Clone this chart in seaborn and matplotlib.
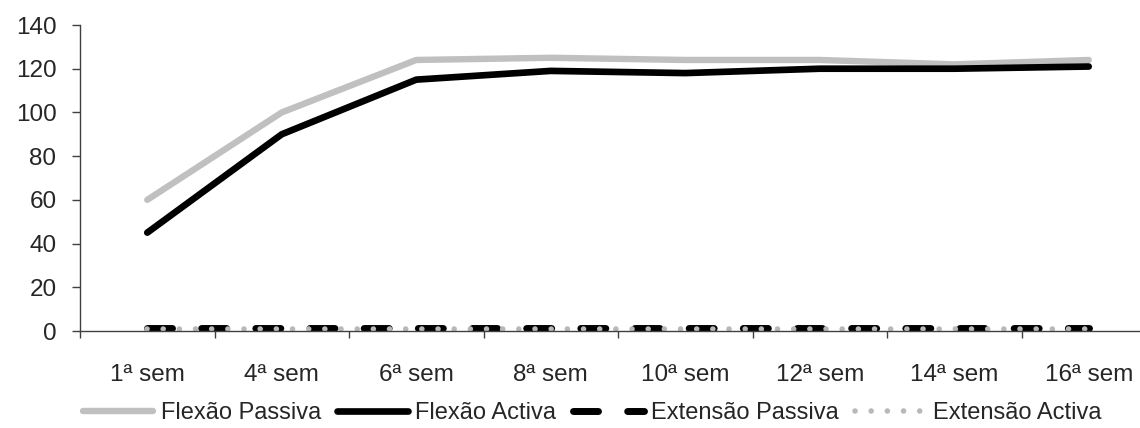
import matplotlib
matplotlib.use("Agg")
import matplotlib.pyplot as plt
import seaborn as sns
import pandas as pd
import numpy as np

semanas = ["1ª sem", "4ª sem", "6ª sem", "8ª sem", "10ª sem", "12ª sem", "14ª sem", "16ª sem"]
flexao_passiva = [60, 100, 124, 125, 124, 124, 122, 124]
flexao_activa = [45, 90, 115, 119, 118, 120, 120, 121]
extensao_passiva = [1.5, 1.5, 1.5, 1.5, 1.5, 1.5, 1.5, 1.5]
extensao_activa = [1, 1, 1, 1, 1, 1, 1, 1]
series = ["Flexão Passiva", "Flexão Activa", "Extensão Passiva", "Extensão Activa"]
y_ticks = [0, 20, 40, 60, 80, 100, 120, 140]

df = pd.DataFrame({
    "semana": semanas * 4,
    "valor": flexao_passiva + flexao_activa + extensao_passiva + extensao_activa,
    "serie": np.repeat(series, len(semanas)),
})

sns.set_style("white")
plt.rcParams["font.family"] = ["Liberation Sans", "DejaVu Sans"]

fig = plt.figure(figsize=(11.4, 4.28), dpi=100)
ax = fig.add_axes([80 / 1140, 1 - 331 / 428, 1076 / 1140, 306 / 428])

styles = {
    "Flexão Passiva": dict(color="#c0c0c0", lw=4.6, dashes=None),
    "Flexão Activa": dict(color="#000000", lw=4.8, dashes=None),
    "Extensão Passiva": dict(color="#000000", lw=5.0, dashes=(3.6, 4.2)),
    "Extensão Activa": dict(color="#b8b8b8", lw=4.0, dashes=(0.01, 2.9)),
}

for name in series:
    st = styles[name]
    sub = df[df["serie"] == name]
    kws = dict(solid_capstyle="round", solid_joinstyle="round",
               dash_capstyle="round", dash_joinstyle="round")
    sns.lineplot(data=sub, x="semana", y="valor", ax=ax, color=st["color"],
                 linewidth=st["lw"], sort=False, legend=False, label=name, **kws)
    line = ax.lines[-1]
    if st["dashes"] is not None:
        line.set_dashes(st["dashes"])
    line.set_clip_on(False)

ax.set_xlim(-0.5, len(semanas) - 0.5)
ax.set_ylim(0, 140)
ax.set_yticks(y_ticks)
ax.set_xticks(range(len(semanas)))
ax.set_xticklabels(semanas)
ax.set_xticks(np.arange(-0.5, len(semanas), 1.0), minor=True)
ax.set_xlabel("")
ax.set_ylabel("")

for s in ["top", "right"]:
    ax.spines[s].set_visible(False)
for s in ["left", "bottom"]:
    ax.spines[s].set_color("#404040")
    ax.spines[s].set_linewidth(1.0)

ax.tick_params(axis="y", direction="out", length=6, width=1, color="#404040",
               labelsize=17.5, pad=11, left=True)
ax.tick_params(axis="x", which="major", length=0, labelsize=17.5, pad=24, bottom=True)
ax.tick_params(axis="x", which="minor", direction="out", length=5, width=1,
               color="#404040", bottom=True)

leg = ax.legend(handles=ax.lines, labels=series, loc="center",
                bbox_to_anchor=(592 / 1140, 1 - 413 / 428),
                bbox_transform=fig.transFigure, ncol=4, frameon=False,
                fontsize=17, handlelength=3.0, handletextpad=0.3,
                columnspacing=0.7, borderaxespad=0, borderpad=0)

fig.savefig("out.png", dpi=100)
